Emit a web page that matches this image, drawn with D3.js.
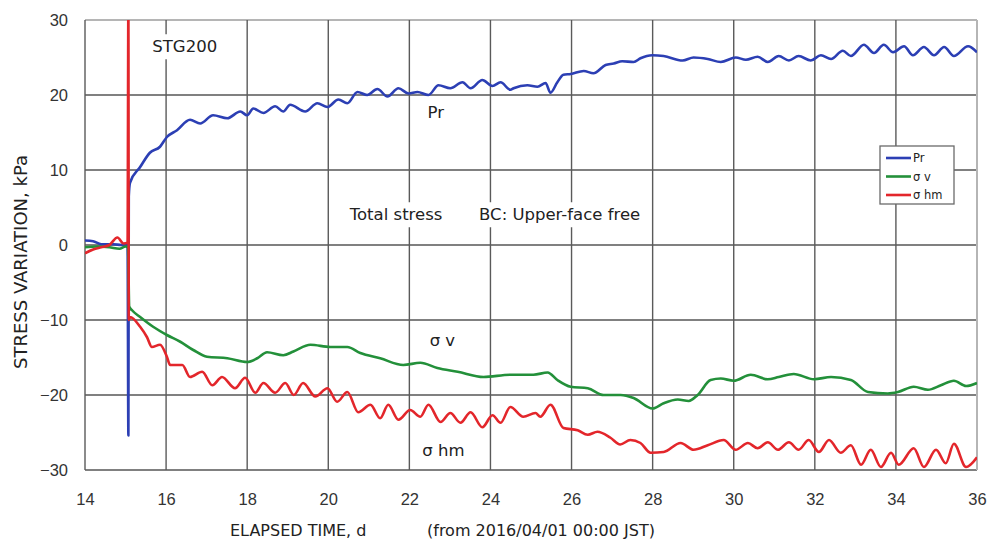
<!DOCTYPE html>
<html>
<head>
<meta charset="utf-8">
<script src="https://cdn.jsdelivr.net/npm/d3@7"></script>
<style>
  body { margin: 0; background: #fff; }
  svg { display: block; font-family: "DejaVu Sans", sans-serif; }
</style>
</head>
<body>
<div id="chart-container"></div>
<script>
const xTicks = [14, 16, 18, 20, 22, 24, 26, 28, 30, 32, 34, 36];
const yTicks = [-30, -20, -10, 0, 10, 20, 30];

// Pr (blue)
const prDays = [14.0, 14.2, 14.4, 14.7, 14.9, 15.05, 15.07, 15.08, 15.11, 15.36, 15.6, 15.85, 16.02, 16.27, 16.59, 16.84,
  17.16, 17.51, 17.83, 18.0, 18.15, 18.4, 18.69, 18.89, 19.06, 19.43, 19.73, 19.98, 20.25, 20.47, 20.72, 20.96,
  21.21, 21.46, 21.73, 21.98, 22.2, 22.47, 22.72, 23.01, 23.31, 23.51, 23.8, 24.05, 24.25, 24.49, 24.57, 24.91,
  25.16, 25.36, 25.48, 25.65, 25.8, 25.98, 26.3, 26.54, 26.84, 27.04, 27.25, 27.53, 27.7, 27.99, 28.27, 28.74,
  29.01, 29.36, 29.68, 30.05, 30.3, 30.59, 30.84, 31.11, 31.36, 31.6, 31.9, 32.15, 32.4, 32.69, 32.89, 33.21,
  33.46, 33.7, 33.93, 34.2, 34.42, 34.69, 34.94, 35.19, 35.43, 35.78, 36.0];
const prValues = [0.6, 0.5, 0.1, 0.1, 0.0, 0.1, -25.4, 6.5, 8.3, 10.4, 12.3, 13.1, 14.4, 15.3, 16.7, 16.2,
  17.3, 16.9, 17.8, 17.3, 18.2, 17.6, 18.5, 17.8, 18.7, 17.8, 18.9, 18.4, 19.4, 18.9, 20.4, 20.0,
  20.8, 19.8, 20.9, 20.2, 20.4, 20.0, 21.3, 20.9, 21.7, 20.9, 22.0, 21.2, 21.7, 20.7, 20.9, 21.3,
  21.1, 21.6, 20.3, 21.7, 22.7, 22.8, 23.2, 22.9, 24.0, 24.2, 24.5, 24.4, 24.9, 25.3, 25.2, 24.6,
  25.0, 24.8, 24.4, 25.0, 24.7, 25.1, 24.4, 25.2, 24.6, 25.2, 24.6, 25.3, 24.8, 25.9, 25.2, 26.7,
  25.6, 26.7, 25.7, 26.5, 25.3, 26.4, 25.3, 26.4, 25.2, 26.5, 25.7];

// sigma v (green)
const svDays = [14.0, 14.3, 14.6, 14.85, 15.0, 15.06, 15.09, 15.16, 15.36, 15.68, 16.02, 16.35, 16.67, 17.01, 17.51,
  18.0, 18.25, 18.49, 18.89, 19.14, 19.56, 20.05, 20.47, 20.79, 21.28, 21.85, 22.27, 22.69, 23.19, 23.83,
  24.49, 25.06, 25.41, 25.65, 25.98, 26.4, 26.79, 27.21, 27.53, 28.0, 28.27, 28.62, 28.89, 29.11, 29.43,
  29.68, 30.0, 30.42, 30.84, 31.11, 31.48, 31.98, 32.4, 32.89, 33.31, 33.8, 34.05, 34.44, 34.79, 35.11,
  35.43, 35.73, 36.0];
const svValues = [-0.3, -0.2, -0.3, -0.5, -0.2, -0.3, -8.2, -8.7, -9.6, -10.9, -12.0, -12.9, -14.0, -14.9, -15.1,
  -15.6, -15.1, -14.3, -14.7, -14.2, -13.3, -13.6, -13.6, -14.4, -15.1, -16.0, -15.7, -16.4, -16.9, -17.6,
  -17.3, -17.3, -17.0, -18.0, -18.9, -19.1, -20.0, -20.0, -20.4, -21.8, -21.1, -20.6, -20.8, -20.0, -18.0,
  -17.8, -18.1, -17.3, -17.9, -17.6, -17.2, -17.9, -17.6, -18.0, -19.6, -19.8, -19.6, -18.9, -19.3, -18.7,
  -18.1, -18.8, -18.4];

// sigma hm (red)
const shmDays = [14.0, 14.2, 14.4, 14.6, 14.8, 14.95, 15.05, 15.07, 15.08, 15.11, 15.36, 15.53, 15.65, 15.85, 16.02,
  16.1, 16.4, 16.59, 16.89, 17.14, 17.38, 17.7, 17.95, 18.2, 18.4, 18.69, 18.94, 19.15, 19.38, 19.68, 19.98,
  20.22, 20.47, 20.74, 21.04, 21.28, 21.48, 21.73, 22.02, 22.27, 22.47, 22.77, 23.01, 23.26, 23.51, 23.8,
  24.05, 24.25, 24.49, 24.81, 25.11, 25.23, 25.48, 25.8, 26.15, 26.4, 26.64, 26.96, 27.2, 27.45, 27.7,
  27.95, 28.27, 28.69, 29.01, 29.36, 29.75, 30.05, 30.35, 30.59, 30.84, 31.09, 31.36, 31.6, 31.85, 32.1,
  32.35, 32.64, 32.89, 33.14, 33.38, 33.63, 33.88, 34.07, 34.44, 34.69, 34.99, 35.23, 35.43, 35.73, 36.0];
const shmValues = [-1.1, -0.6, -0.3, 0.0, 1.0, 0.2, 0.3, 32, -10.0, -9.6, -10.9, -12.3, -13.6, -13.3, -14.9,
  -16.0, -16.0, -17.6, -16.9, -18.7, -17.6, -19.1, -17.7, -19.7, -18.4, -19.7, -18.4, -20.0, -18.4, -20.2, -19.1,
  -20.9, -19.6, -22.3, -21.3, -23.1, -21.3, -23.3, -22.0, -22.9, -21.3, -23.6, -22.4, -23.7, -22.3, -24.3,
  -22.7, -23.7, -21.6, -22.9, -22.4, -22.9, -21.3, -24.4, -24.7, -25.3, -24.9, -25.7, -26.6, -26.0, -26.4,
  -27.7, -27.6, -26.4, -27.3, -26.7, -26.0, -27.3, -26.4, -27.1, -26.3, -27.3, -26.3, -27.3, -26.0, -27.6,
  -26.0, -27.7, -26.7, -29.3, -27.3, -29.6, -27.7, -29.3, -27.1, -29.6, -27.3, -29.1, -26.5, -29.6, -28.3];

const seriesNames = ["Pr", "σ v", "σ hm"];
const seriesColors = ["#2c3fb4", "#23903a", "#e3262b"];

const width = 987;
const height = 540;
const margin = {top: 20, right: 10, bottom: 70, left: 85};
const plotW = 977 - margin.left;
const plotH = 470 - margin.top;

const x = d3.scaleLinear().domain([14, 36]).range([0, plotW]);
const y = d3.scaleLinear().domain([-30, 30]).range([plotH, 0]);

const svg = d3.select("#chart-container")
  .append("svg")
  .attr("width", width)
  .attr("height", height);

const g = svg.append("g")
  .attr("transform", `translate(${margin.left},${margin.top})`);

g.append("clipPath")
  .attr("id", "plot-clip")
  .append("rect")
  .attr("width", plotW)
  .attr("height", plotH);

// grid
g.selectAll(".hgrid")
  .data(yTicks)
  .enter()
  .append("line")
  .attr("class", "hgrid")
  .attr("x1", 0)
  .attr("x2", plotW)
  .attr("y1", d => y(d))
  .attr("y2", d => y(d))
  .attr("stroke", d => (d === 30 ? "#b5b5b5" : "#808080"))
  .attr("stroke-width", 2);

g.selectAll(".vgrid")
  .data(xTicks)
  .enter()
  .append("line")
  .attr("class", "vgrid")
  .attr("x1", d => x(d))
  .attr("x2", d => x(d))
  .attr("y1", 0)
  .attr("y2", plotH)
  .attr("stroke", d => (d === 36 ? "#b5b5b5" : "#5a5a5a"))
  .attr("stroke-width", d => (d === 36 ? 2 : 1.4));

// tick labels (the grid draws the frame)
const xAxis = g.append("g")
  .attr("transform", `translate(0,${plotH})`)
  .call(d3.axisBottom(x).tickValues(xTicks).tickSize(0).tickPadding(23).tickFormat(d3.format("d")));
xAxis.select(".domain").remove();
xAxis.selectAll("text")
  .style("font-size", "16.5px")
  .attr("fill", "#333");

const yAxis = g.append("g")
  .call(d3.axisLeft(y).tickValues(yTicks).tickSize(0).tickPadding(17)
    .tickFormat(d => (d < 0 ? "\u2212" + Math.abs(d) : d)));
yAxis.select(".domain").remove();
yAxis.selectAll("text")
  .style("font-size", "16.5px")
  .attr("fill", "#333");

// text annotation, optionally on a white box that cuts the grid
function note(day, value, str, bg) {
  const t = g.append("text")
    .attr("x", x(day))
    .attr("y", y(value))
    .style("font-size", "16.5px")
    .attr("fill", "#222")
    .text(str);
  if (bg) {
    const b = t.node().getBBox();
    g.insert("rect", () => t.node())
      .attr("x", b.x - 4)
      .attr("y", b.y - 3)
      .attr("width", b.width + 8)
      .attr("height", b.height + 6)
      .attr("fill", "#fff");
  }
  return t;
}

note(15.66, 25.7, "STG200", true);
note(20.53, 3.3, "Total stress", true);
note(23.72, 3.3, "BC: Upper-face free", true);

const line = d3.line()
  .x(d => x(d[0]))
  .y(d => y(d[1]))
  .curve(d3.curveMonotoneX);

const series = [
  d3.zip(prDays, prValues),
  d3.zip(svDays, svValues),
  d3.zip(shmDays, shmValues)
];

g.append("g")
  .attr("clip-path", "url(#plot-clip)")
  .selectAll("path")
  .data(series)
  .enter()
  .append("path")
  .attr("d", line)
  .attr("fill", "none")
  .attr("stroke", (d, i) => seriesColors[i])
  .attr("stroke-width", 2.6)
  .attr("stroke-linejoin", "round");

note(22.45, 16.9, "Pr", false);
note(22.5, -13.4, "σ v", false);
note(22.32, -28.1, "σ hm", false);

// legend
const legend = g.append("g")
  .attr("transform", `translate(${880 - margin.left},${146 - margin.top})`);

legend.append("rect")
  .attr("width", 74)
  .attr("height", 58)
  .attr("fill", "#fff")
  .attr("stroke", "#6a6a6a")
  .attr("stroke-width", 1.3);

const legendItems = legend.selectAll(".legend")
  .data(seriesNames)
  .enter()
  .append("g")
  .attr("class", "legend")
  .attr("transform", (d, i) => `translate(0,${12 + i * 18.5})`);

legendItems.append("line")
  .attr("x1", 6)
  .attr("x2", 31)
  .attr("stroke", (d, i) => seriesColors[i])
  .attr("stroke-width", 2.6);

legendItems.append("text")
  .attr("x", 33)
  .attr("dy", "0.35em")
  .style("font-size", "11.5px")
  .attr("fill", "#222")
  .text(d => d);

// axis titles
svg.append("text")
  .attr("transform", "translate(27,262) rotate(-90)")
  .attr("text-anchor", "middle")
  .style("font-size", "18px")
  .attr("fill", "#222")
  .text("STRESS VARIATION, kPa");

svg.append("text")
  .attr("x", 230)
  .attr("y", 536)
  .style("font-size", "16px")
  .attr("fill", "#222")
  .text("ELAPSED TIME, d");

svg.append("text")
  .attr("x", 427)
  .attr("y", 536)
  .style("font-size", "16px")
  .attr("fill", "#222")
  .text("(from 2016/04/01 00:00 JST)");
</script>
</body>
</html>
